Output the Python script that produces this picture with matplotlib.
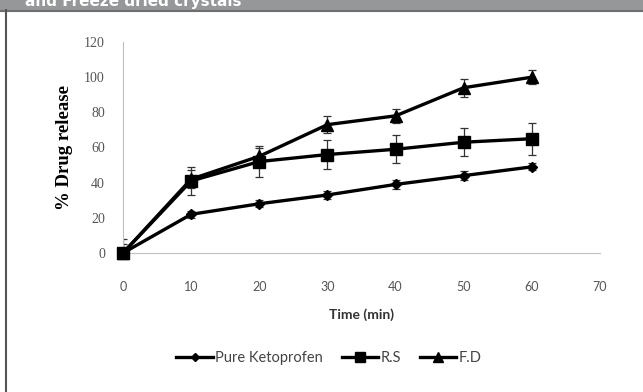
import matplotlib
matplotlib.use('Agg')
import matplotlib.pyplot as plt
from matplotlib.patches import Rectangle
from matplotlib.lines import Line2D

# release data
time_min = [0, 10, 20, 30, 40, 50, 60]
pure = [0, 22, 28, 33, 39, 44, 49]
pure_err = [1, 2, 2, 2.5, 2.5, 2.5, 2]
rs = [0, 41, 52, 56, 59, 63, 65]
rs_err = [8, 8, 9, 8, 8, 8, 9]
fd = [0, 42, 55, 73, 78, 94, 100]
fd_err = [5, 5, 5, 5, 4, 5, 4]

x_ticks = [0, 10, 20, 30, 40, 50, 60, 70]
y_ticks = [0, 20, 40, 60, 80, 100, 120]

fig = plt.figure(figsize=(6.43, 3.92), dpi=100)

# header band and frame
fig.patches.append(Rectangle((0, 1 - 10/392), 1, 10/392, transform=fig.transFigure,
                             facecolor='#959799', edgecolor='none', zorder=0))
fig.add_artist(Line2D([0, 1], [1 - 10.5/392]*2, color='#6d6e70', lw=1.5))
fig.add_artist(Line2D([6/643]*2, [0, 1 - 10/392], color='#555555', lw=1.5))
fig.text(25/643, 1 - 6/392, 'and Freeze dried crystals', color='white', fontsize=11,
         fontweight='bold', va='baseline', ha='left')

ax = fig.add_axes([123/643, 1 - 253/392, 477/643, 211/392])

series = [
    (pure, pure_err, 'D', 5, 'Pure Ketoprofen'),
    (rs, rs_err, 's', 9, 'R.S'),
    (fd, fd_err, '^', 8, 'F.D'),
]
for vals, errs, mk, ms, name in series:
    ax.errorbar(time_min, vals, yerr=errs, fmt='none', ecolor='#333333',
                elinewidth=0.9, capsize=3, capthick=0.9, zorder=2)
    ax.plot(time_min, vals, color='black', lw=2.4, marker=mk, ms=ms,
            label=name, clip_on=False, zorder=3)

ax.set_xlim(0, 70)
ax.set_ylim(0, 120)
ax.set_xticks(x_ticks)
ax.set_yticks(y_ticks)
for s in ['top', 'right']:
    ax.spines[s].set_visible(False)
ax.spines['left'].set_color('#c0c0c0')
ax.spines['bottom'].set_color('#c0c0c0')
ax.tick_params(length=0, labelcolor='#555555')
ax.tick_params(axis='x', pad=20, labelsize=9)
ax.tick_params(axis='y', pad=13, labelsize=10)
for lab in ax.get_xticklabels():
    lab.set_family('Lato')
for lab in ax.get_yticklabels():
    lab.set_family('Liberation Serif')

ax.set_xlabel('Time (min)', fontsize=10, fontweight='bold', family='Lato',
              color='#333333', labelpad=11)
ax.set_ylabel('% Drug release', fontsize=13.5, fontweight='bold', family='Liberation Serif',
              labelpad=8)

handles = [Line2D([], [], color='black', lw=2.4, marker=mk, ms=ms * 0.85)
           for _, _, mk, ms, _ in series]
fig.legend(handles, [s[4] for s in series], loc='center', bbox_to_anchor=(329/643, 1 - 358/392),
           ncol=3, frameon=False, prop={'family': 'Lato', 'size': 10.5}, handlelength=2.5,
           handletextpad=0.15, columnspacing=1.3, labelcolor='#444444')

fig.savefig('out.png', dpi=100)
